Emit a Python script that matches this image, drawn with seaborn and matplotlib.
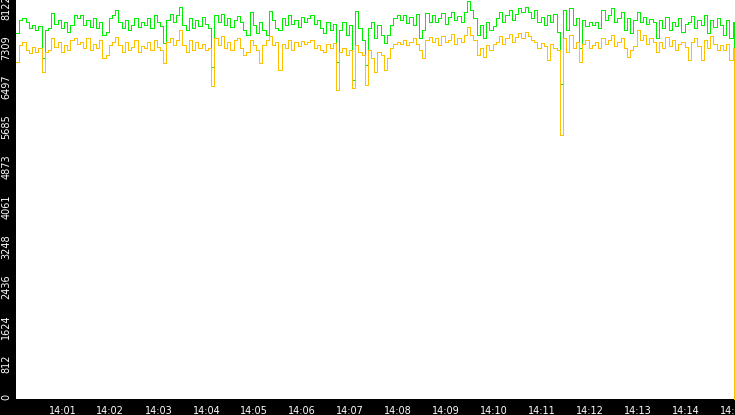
import matplotlib
matplotlib.use("Agg")
import matplotlib.pyplot as plt
from matplotlib.transforms import ScaledTranslation
import pandas as pd
import seaborn as sns

# ------------------------------- Data ----------------------------------------------

# readings every 4 s from 14:00:02, last one at 14:15:00
green_vals = [
    7450, 7710, 7760, 7670, 7550, 7610, 7510, 7590, 6940, 7510,
    7550, 7860, 7630, 7710, 7550, 7670, 7470, 7610, 7820, 7760,
    7820, 7610, 7710, 7570, 7760, 7550, 7670, 7410, 7470, 7760,
    7820, 7920, 7670, 7550, 7710, 7510, 7610, 7760, 7570, 7670,
    7610, 7760, 7550, 7820, 7670, 7590, 7240, 7710, 7840, 7670,
    7820, 7980, 7610, 7510, 7760, 7550, 7710, 7590, 7780, 7630,
    7550, 6750, 7820, 7670, 7840, 7610, 7760, 7570, 7710, 7800,
    7670, 7510, 7410, 7880, 7610, 7450, 7670, 7510, 7410, 7900,
    7710, 7550, 7510, 7760, 7610, 7820, 7630, 7710, 7570, 7780,
    7670, 7760, 7820, 7630, 7710, 7550, 7450, 7670, 7510, 7630,
    6860, 7510, 7670, 7410, 7610, 6490, 7900, 7550, 7310, 6800,
    7550, 7670, 7350, 7610, 7410, 7240, 7410, 7610, 7760, 7820,
    7710, 7820, 7650, 7780, 7610, 7840, 7350, 7510, 7860, 7670,
    7820, 7670, 7760, 7860, 7630, 7780, 7880, 7710, 7800, 7670,
    7880, 8100, 7920, 7760, 7410, 7610, 7350, 7670, 7510, 7590,
    7760, 7880, 7670, 7820, 7920, 7710, 7840, 7960, 7880, 7980,
    7880, 7760, 7920, 7670, 7780, 7610, 7820, 7670, 7840, 7470,
    6410, 7920, 7510, 7960, 7610, 7760, 7140, 7710, 7590, 7670,
    7610, 7670, 7550, 7920, 7710, 7820, 7960, 7670, 7760, 7880,
    7510, 7760, 7450, 7710, 7880, 7670, 7780, 7630, 7730, 7670,
    7350, 7710, 7550, 7780, 7510, 7670, 7590, 7760, 7470, 7630,
    7670, 7800, 7550, 7710, 7610, 7820, 7450, 7710, 7570, 7760,
    7610, 7410, 7710, 7350, 7670, 3840,
]
orange_vals = [
    6860, 7200, 7270, 7100, 7040, 7160, 7060, 7140, 6650, 7060,
    7100, 7350, 7160, 7270, 7060, 7200, 7100, 7310, 7350, 7220,
    7270, 7140, 7350, 7100, 7220, 7140, 7310, 6940, 7000, 7200,
    7270, 7370, 7200, 7060, 7270, 7100, 7160, 7310, 7060, 7180,
    7140, 7270, 7100, 7310, 7160, 7100, 6840, 7270, 7350, 7200,
    7310, 7510, 7200, 7060, 7310, 7100, 7270, 7140, 7220, 7100,
    7140, 6370, 7350, 7200, 7390, 7140, 7270, 7100, 7310, 7350,
    7140, 7000, 7060, 7310, 7200, 7100, 6840, 7200, 7310, 7390,
    7200, 7270, 6690, 7220, 7140, 7310, 7100, 7270, 7180, 7290,
    7220, 7270, 7310, 7140, 7200, 7100, 7060, 7220, 7140, 7240,
    6290, 7060, 7140, 7000, 7100, 6330, 7200, 7060, 7000, 6390,
    7100, 6940, 6650, 7060, 7000, 6690, 6940, 7140, 7220, 7270,
    7220, 7310, 7200, 7270, 7350, 7220, 7100, 6940, 7310, 7370,
    7270, 7350, 7200, 7390, 7270, 7310, 7430, 7220, 7350, 7270,
    7410, 7570, 7410, 7310, 7000, 7140, 6960, 7200, 7100, 7220,
    7270, 7390, 7220, 7350, 7430, 7270, 7370, 7450, 7350, 7470,
    7390, 7310, 7270, 7140, 7240, 7180, 6900, 7220, 7140, 7100,
    5370, 7350, 7060, 7410, 7140, 7270, 6860, 7220, 7310, 7140,
    7200, 7270, 7140, 7350, 7220, 7310, 7410, 7180, 7270, 7350,
    7140, 6960, 7100, 7180, 7510, 7310, 7410, 7220, 7350, 7270,
    7060, 7270, 7140, 7370, 7180, 7310, 7100, 7220, 7270, 7160,
    6900, 7270, 7350, 7180, 6900, 7310, 7140, 7390, 7220, 7100,
    7200, 7100, 7220, 6900, 7140, 0,
]
y_ticks = [0, 812, 1624, 2436, 3248, 4061, 4873, 5685, 6497, 7309, 8122]
x_tick_labels = ["14:01", "14:02", "14:03", "14:04", "14:05", "14:06", "14:07",
                 "14:08", "14:09", "14:10", "14:11", "14:12", "14:13", "14:14", "14:15"]

# ------------------------------- Frame ----------------------------------------------

times = pd.date_range("2024-01-01 14:00:02", periods=len(green_vals) - 1, freq="4s")
times = times.append(pd.DatetimeIndex(["2024-01-01 14:15:00"]))

df = pd.concat([
    pd.DataFrame({"time": times, "value": green_vals, "series": "a"}),
    pd.DataFrame({"time": times, "value": orange_vals, "series": "b"}),
], ignore_index=True)

# ------------------------------- Plot ----------------------------------------------

sns.set_style("white")
plt.rcParams["font.family"] = ["DejaVu Sans"]

fig = plt.figure(figsize=(7.35, 4.15), dpi=100, facecolor="black")
ax = fig.add_axes([16 / 735, 16 / 415, 719 / 735, 399 / 415])
ax.set_facecolor("white")

sns.lineplot(data=df, x="time", y="value", hue="series", hue_order=["a", "b"],
             palette={"a": "#00ee00", "b": "#ffc000"}, legend=False, ax=ax,
             drawstyle="steps-post")
for line in ax.lines:
    line.set_linewidth(0.6)
    line.set_antialiased(False)
    line.set_clip_on(False)

ax.set_ylim(0, 8122)
ax.set_xlim(pd.Timestamp("2024-01-01 14:00:02.0"), pd.Timestamp("2024-01-01 14:15:01.0"))
ax.set_yticks(y_ticks)
ax.set_yticklabels([str(v) for v in y_ticks])
x_ticks = [pd.Timestamp("2024-01-01 " + lab) for lab in x_tick_labels]
ax.set_xticks(x_ticks)
ax.set_xticklabels(x_tick_labels)
ax.set_xlabel("")
ax.set_ylabel("")

for s in ax.spines.values():
    s.set_visible(False)

ax.tick_params(axis="both", direction="out", length=4.3, width=0.75, color="white",
               labelcolor="white", labelsize=7.0, pad=1.2)
ax.tick_params(axis="x", pad=0.8)

# rotated y labels, shifted so the text ends just above each tick
shift = ScaledTranslation(3.0 / 100, 5.0 / 100, fig.dpi_scale_trans)
for lab in ax.get_yticklabels():
    lab.set_rotation(90)
    lab.set_va("top")
    lab.set_ha("right")
    lab.set_transform(lab.get_transform() + shift)

fig.savefig("out.png", dpi=100, facecolor="black")
